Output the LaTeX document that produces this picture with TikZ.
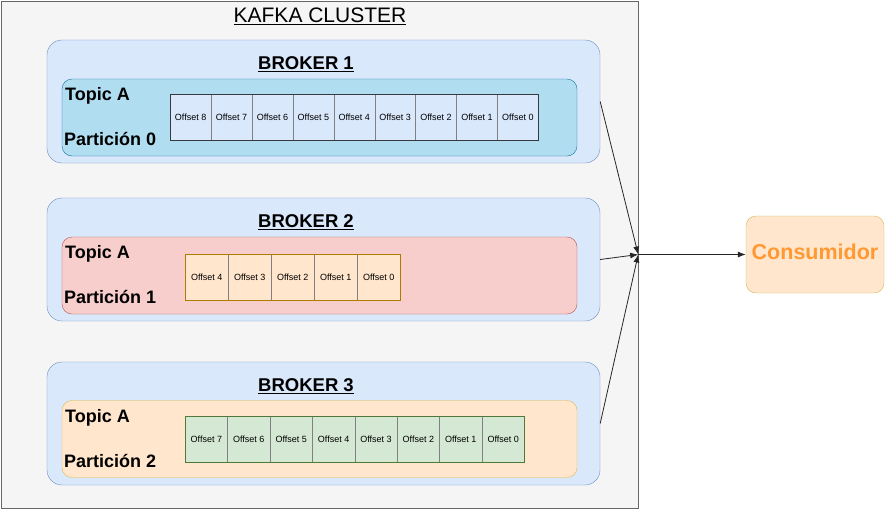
\documentclass[tikz,border=0pt]{standalone}
\usepackage{fontspec}
\setmainfont{Liberation Sans}
\usetikzlibrary{arrows,arrows.meta,shapes,positioning,calc}
\definecolor{clusterfill}{HTML}{F5F5F5}
\definecolor{clusterdraw}{HTML}{666666}
\definecolor{brokerfill}{HTML}{DAE8FC}
\definecolor{brokerdraw}{HTML}{6C8EBF}
\definecolor{bluefill}{HTML}{B1DDF0}
\definecolor{bluedraw}{HTML}{10739E}
\definecolor{redfill}{HTML}{F8CECC}
\definecolor{reddraw}{HTML}{B85450}
\definecolor{orangefill}{HTML}{FFE6CC}
\definecolor{orangedraw}{HTML}{D79B00}
\definecolor{yellowdraw}{HTML}{D6B656}
\definecolor{greenfill}{HTML}{D5E8D4}
\definecolor{greendraw}{HTML}{4F7A3A}
\definecolor{celldraw}{HTML}{36393D}
\definecolor{consfont}{HTML}{FF9933}

\begin{document}
\begin{tikzpicture}[x=1pt,y=-1pt]
      \tikzstyle{every edge}=[->,>={Latex[length=8pt,width=6pt]},line width=0.8pt,draw=black!85]
      \tikzstyle{broker}=[draw=brokerdraw,fill=brokerfill,rounded corners=15pt,minimum width=553pt,minimum height=123pt,inner sep=0pt]
      \tikzstyle{partition}=[rounded corners=10pt,minimum width=515pt,minimum height=77pt,inner sep=0pt]
      \tikzstyle{cell}=[draw=gray,minimum height=46pt,inner sep=0pt,anchor=west,font=\fontsize{9}{10}\selectfont]
      \tikzstyle{label}=[anchor=west,inner sep=0pt,font=\fontsize{18}{20}\selectfont\bfseries]
      \tikzstyle{title}=[inner sep=0pt,font=\fontsize{18.5}{20}\selectfont\bfseries]

      \useasboundingbox (0,0) rectangle (885,509);
      \node[draw=clusterdraw,fill=clusterfill,minimum width=637pt,minimum height=507pt,inner sep=0pt] (cluster) at (319.5,254.5) {};
      \node[inner sep=0pt,font=\fontsize{21}{24}\selectfont] (clustertitle) at (320,16) {\underline{KAFKA CLUSTER}};

      \node[broker] (B1) at (323.5,101.5) {};
      \node[broker] (B2) at (323.5,259.5) {};
      \node[broker] (B3) at (323.5,423.5) {};
      \node[title] (T1) at (306,64) {\underline{BROKER 1}};
      \node[title] (T2) at (306,222) {\underline{BROKER 2}};
      \node[title] (T3) at (306,386) {\underline{BROKER 3}};

      \node[partition,draw=bluedraw,fill=bluefill] (P0) at (319.5,117.5) {};
      \node[partition,draw=reddraw,fill=redfill] (P1) at (319.5,275.5) {};
      \node[partition,draw=orangedraw!70,fill=orangefill] (P2) at (319.5,439) {};

      \node[label] (TA0) at (65,96) {Topic A};
      \node[label] (PA0) at (64,139) {Partición 0};
      \node[label] (TA1) at (65,254) {Topic A};
      \node[label] (PA1) at (64,297) {Partición 1};
      \node[label] (TA2) at (65,418) {Topic A};
      \node[label] (PA2) at (64,461) {Partición 2};

      \foreach \k [count=\i from 0] in {8,...,0}
        \node[cell,fill=brokerfill,minimum width=40.9pt] (o0\k) at (170+\i*40.9,117.5) {Offset \k};
      \draw[celldraw,thick] (170,94.5) rectangle (538,140.5);

      \foreach \k [count=\i from 0] in {4,...,0}
        \node[cell,fill=orangefill,minimum width=43pt] (o1\k) at (185+\i*43,277) {Offset \k};
      \draw[orangedraw!80!black,thick] (185,254) rectangle (400,300);

      \foreach \k [count=\i from 0] in {7,...,0}
        \node[cell,fill=greenfill,minimum width=42.4pt] (o2\k) at (185+\i*42.4,439) {Offset \k};
      \draw[greendraw,thick] (185,416) rectangle (524,462);

      \node[draw=yellowdraw,fill=orangefill,rounded corners=10pt,minimum width=138pt,minimum height=77pt,inner sep=0pt,text=consfont,font=\fontsize{21.5}{24}\selectfont\bfseries] (C) at (815,254.5) {\raisebox{5pt}{Consumidor}};
      \coordinate (hub) at (cluster.east |- C.west);

      \draw (B1.east) edge (hub);
      \draw (B2.east) edge (hub);
      \draw (B3.east) edge (hub);
      \draw (hub) edge (C.west);
    \end{tikzpicture}
\end{document}
